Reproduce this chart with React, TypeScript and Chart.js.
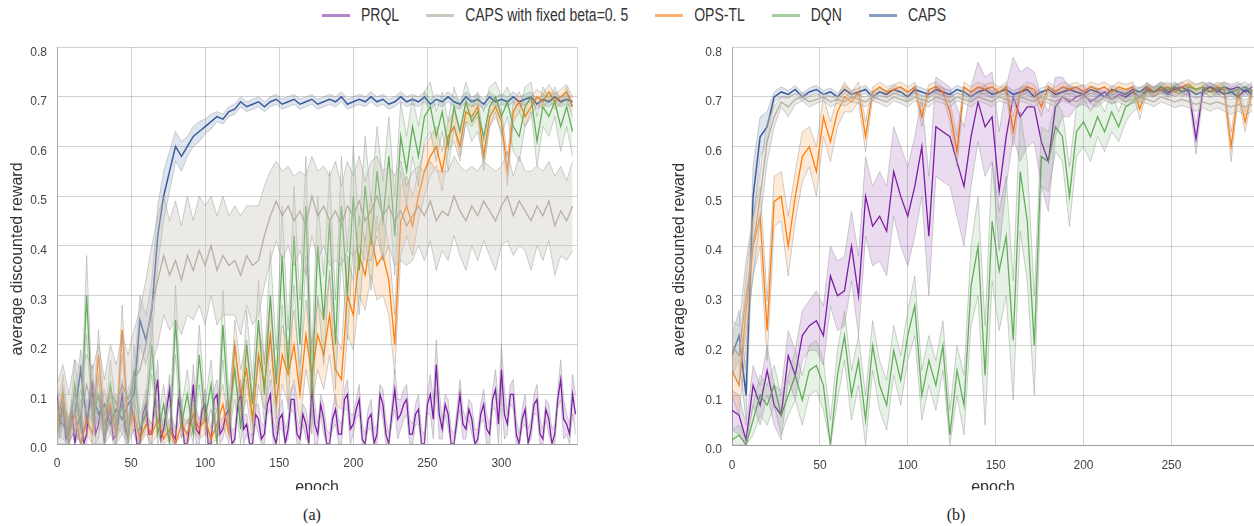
import { useEffect, useRef } from "react";
import { Chart, registerables } from "chart.js";

Chart.register(...registerables);

// ---------- shared ----------
const seriesNames = ["PRQL", "CAPS with fixed beta=0. 5", "OPS-TL", "DQN", "CAPS"];
const seriesColors = ["#7b1fa2", "#a8a292", "#ff7f0e", "#66ac5c", "#3b5b9a"];
const bandColors = [
  "rgba(123,31,162,0.16)",
  "rgba(205,200,190,0.38)",
  "rgba(255,127,14,0.16)",
  "rgba(102,172,92,0.16)",
  "rgba(59,91,154,0.16)",
];
const legendColors = [
  "rgba(123,31,162,0.55)",
  "rgba(168,162,146,0.6)",
  "rgba(255,127,14,0.6)",
  "rgba(102,172,92,0.6)",
  "rgba(59,91,154,0.6)",
];

const yTicks = [0, 0.1, 0.2, 0.3, 0.4, 0.5, 0.6, 0.7, 0.8];
const yTickLabels = ["0.0", "0.1", "0.2", "0.3", "0.4", "0.5", "0.6", "0.7", "0.8"];
const xTicksA = [0, 50, 100, 150, 200, 250, 300];
const xTicksB = [0, 50, 100, 150, 200, 250];

// ---------- panel (a): epochs 0..348 step 4 (PRQL step 2) ----------
const epochsA = Array.from({ length: 88 }, (_, i) => i * 4);
const epochsA2 = Array.from({ length: 176 }, (_, i) => i * 2);

const prqlA = [
  0.10, 0.04, 0.08, 0.01, 0.03, 0.07, 0.00, 0.04, 0.06, 0.00, 0.02, 0.09, 0.12, 0.02, 0.04, 0.08, 0.00, 0.05, 0.07, 0.01,
  0.02, 0.06, 0.10, 0.03, 0.01, 0.08, 0.05, 0.00, 0.00, 0.06, 0.08, 0.02, 0.02, 0.09, 0.13, 0.01, 0.03, 0.07, 0.11, 0.02,
  0.01, 0.09, 0.06, 0.00, 0.00, 0.05, 0.12, 0.03, 0.02, 0.07, 0.08, 0.00, 0.00, 0.09, 0.10, 0.02, 0.03, 0.06, 0.07, 0.00,
  0.01, 0.08, 0.10, 0.03, 0.04, 0.00, 0.00, 0.06, 0.05, 0.01, 0.02, 0.08, 0.10, 0.02, 0.00, 0.05, 0.06, 0.00, 0.03, 0.09,
  0.09, 0.02, 0.01, 0.06, 0.04, 0.00, 0.11, 0.04, 0.02, 0.08, 0.05, 0.00, 0.00, 0.05, 0.07, 0.02, 0.02, 0.09, 0.10, 0.03,
  0.04, 0.07, 0.09, 0.01, 0.00, 0.05, 0.06, 0.00, 0.02, 0.10, 0.08, 0.02, 0.00, 0.06, 0.11, 0.05, 0.06, 0.08, 0.09, 0.02,
  0.02, 0.06, 0.07, 0.00, 0.00, 0.08, 0.10, 0.05, 0.16, 0.06, 0.03, 0.08, 0.06, 0.00, 0.00, 0.05, 0.10, 0.04, 0.03, 0.07,
  0.05, 0.00, 0.01, 0.06, 0.08, 0.03, 0.02, 0.09, 0.11, 0.04, 0.15, 0.06, 0.04, 0.10, 0.10, 0.02, 0.00, 0.05, 0.07, 0.00,
  0.03, 0.08, 0.09, 0.02, 0.01, 0.07, 0.05, 0.00, 0.02, 0.09, 0.13, 0.05, 0.04, 0.02, 0.10, 0.06,
];
const prqlSpreadA = [
  0.03, 0.03, 0.02, 0.03, 0.03, 0.02, 0.04, 0.03, 0.02, 0.03,
  0.02, 0.03, 0.02, 0.03, 0.02, 0.03, 0.02, 0.04, 0.02, 0.03,
  0.02, 0.03, 0.02, 0.04, 0.02, 0.03, 0.02, 0.03, 0.02, 0.03,
  0.02, 0.03, 0.02, 0.02, 0.03, 0.02, 0.03, 0.02, 0.03, 0.02,
  0.03, 0.02, 0.03, 0.04, 0.02, 0.03, 0.02, 0.03, 0.02, 0.03,
  0.02, 0.03, 0.02, 0.03, 0.02, 0.03, 0.02, 0.04, 0.03, 0.03,
  0.02, 0.03, 0.02, 0.04, 0.05, 0.02, 0.03, 0.02, 0.03, 0.02,
  0.03, 0.02, 0.03, 0.02, 0.04, 0.05, 0.02, 0.03, 0.02, 0.03,
  0.02, 0.03, 0.02, 0.03, 0.02, 0.04, 0.02, 0.04,
];

const capsFixedA = [
  0.06, 0.08, 0.05, 0.10, 0.06, 0.12, 0.07, 0.10, 0.06, 0.11,
  0.08, 0.12, 0.09, 0.13, 0.15, 0.20, 0.28, 0.33, 0.38, 0.34,
  0.37, 0.33, 0.38, 0.35, 0.39, 0.36, 0.40, 0.35, 0.38, 0.36,
  0.37, 0.34, 0.38, 0.36, 0.37, 0.42, 0.46, 0.49, 0.46, 0.48,
  0.45, 0.47, 0.44, 0.50, 0.46, 0.48, 0.45, 0.47, 0.44, 0.48,
  0.46, 0.49, 0.45, 0.47, 0.50, 0.46, 0.48, 0.45, 0.47, 0.44,
  0.46, 0.48, 0.46, 0.49, 0.45, 0.47, 0.46, 0.50, 0.47, 0.45,
  0.48, 0.46, 0.49, 0.47, 0.45, 0.48, 0.50, 0.46, 0.49, 0.47,
  0.45, 0.48, 0.46, 0.49, 0.44, 0.47, 0.45, 0.48,
];
const capsFixedSpreadA = [
  0.06, 0.08, 0.05, 0.07, 0.09, 0.06, 0.08, 0.10, 0.07, 0.09,
  0.08, 0.10, 0.09, 0.10, 0.12, 0.13, 0.12, 0.13, 0.12, 0.11,
  0.12, 0.11, 0.12, 0.10, 0.11, 0.12, 0.10, 0.11, 0.12, 0.10,
  0.11, 0.12, 0.10, 0.12, 0.11, 0.10, 0.09, 0.08, 0.09, 0.08,
  0.09, 0.08, 0.10, 0.08, 0.09, 0.08, 0.09, 0.10, 0.08, 0.09,
  0.08, 0.09, 0.08, 0.10, 0.08, 0.09, 0.08, 0.09, 0.10, 0.08,
  0.09, 0.08, 0.09, 0.08, 0.10, 0.08, 0.09, 0.08, 0.09, 0.10,
  0.08, 0.09, 0.08, 0.09, 0.10, 0.08, 0.09, 0.08, 0.09, 0.08,
  0.10, 0.08, 0.09, 0.08, 0.10, 0.09, 0.08, 0.09,
];

const opsA = [
  0.04, 0.10, 0.02, 0.06, 0.00, 0.05, 0.02, 0.18, 0.04, 0.08,
  0.02, 0.23, 0.03, 0.06, 0.01, 0.04, 0.02, 0.05, 0.01, 0.03,
  0.00, 0.04, 0.02, 0.06, 0.03, 0.05, 0.01, 0.04, 0.08, 0.02,
  0.20, 0.10, 0.15, 0.05, 0.18, 0.12, 0.22, 0.08, 0.18, 0.14,
  0.20, 0.10, 0.22, 0.14, 0.22, 0.18, 0.26, 0.15, 0.13, 0.30,
  0.26, 0.38, 0.34, 0.42, 0.36, 0.38, 0.33, 0.20, 0.45, 0.48,
  0.44, 0.50, 0.55, 0.58, 0.60, 0.55, 0.62, 0.64, 0.60, 0.67,
  0.66, 0.68, 0.58, 0.66, 0.68, 0.65, 0.55, 0.67, 0.69, 0.66,
  0.68, 0.70, 0.69, 0.71, 0.69, 0.70, 0.71, 0.68,
];
const opsSpreadA = [
  0.03, 0.04, 0.02, 0.03, 0.02, 0.03, 0.02, 0.05, 0.03, 0.03,
  0.02, 0.05, 0.02, 0.03, 0.02, 0.02, 0.02, 0.03, 0.02, 0.02,
  0.02, 0.02, 0.02, 0.03, 0.02, 0.03, 0.02, 0.03, 0.04, 0.02,
  0.05, 0.05, 0.06, 0.04, 0.06, 0.05, 0.07, 0.05, 0.06, 0.06,
  0.07, 0.06, 0.07, 0.06, 0.07, 0.07, 0.08, 0.07, 0.06, 0.08,
  0.07, 0.08, 0.07, 0.08, 0.07, 0.08, 0.07, 0.06, 0.07, 0.06,
  0.06, 0.05, 0.05, 0.04, 0.04, 0.04, 0.03, 0.03, 0.03, 0.02,
  0.02, 0.02, 0.03, 0.02, 0.02, 0.02, 0.03, 0.02, 0.02, 0.02,
  0.02, 0.015, 0.015, 0.015, 0.015, 0.015, 0.015, 0.02,
];

const dqnA = [
  0.02, 0.08, 0.00, 0.12, 0.03, 0.30, 0.05, 0.10, 0.02, 0.12,
  0.04, 0.08, 0.01, 0.15, 0.03, 0.06, 0.20, 0.02, 0.08, 0.00,
  0.25, 0.04, 0.10, 0.02, 0.18, 0.05, 0.12, 0.00, 0.24, 0.06,
  0.15, 0.03, 0.20, 0.08, 0.25, 0.10, 0.30, 0.12, 0.38, 0.15,
  0.42, 0.20, 0.48, 0.10, 0.40, 0.25, 0.45, 0.20, 0.48, 0.30,
  0.50, 0.35, 0.52, 0.40, 0.55, 0.45, 0.58, 0.42, 0.62, 0.55,
  0.64, 0.58, 0.66, 0.68, 0.62, 0.67, 0.60, 0.68, 0.63, 0.69,
  0.65, 0.67, 0.62, 0.68, 0.70, 0.66, 0.69, 0.64, 0.62, 0.68,
  0.70, 0.61, 0.68, 0.66, 0.69, 0.64, 0.68, 0.63,
];
const dqnSpreadA = [
  0.03, 0.04, 0.02, 0.05, 0.03, 0.08, 0.03, 0.04, 0.02, 0.05,
  0.03, 0.04, 0.02, 0.05, 0.03, 0.03, 0.06, 0.02, 0.04, 0.02,
  0.07, 0.03, 0.05, 0.02, 0.06, 0.03, 0.05, 0.02, 0.07, 0.04,
  0.06, 0.04, 0.07, 0.05, 0.08, 0.06, 0.09, 0.07, 0.10, 0.08,
  0.10, 0.09, 0.10, 0.08, 0.10, 0.09, 0.10, 0.09, 0.10, 0.09,
  0.10, 0.09, 0.10, 0.09, 0.09, 0.08, 0.08, 0.08, 0.07, 0.07,
  0.06, 0.06, 0.05, 0.05, 0.05, 0.04, 0.05, 0.04, 0.05, 0.04,
  0.04, 0.04, 0.05, 0.04, 0.03, 0.04, 0.03, 0.05, 0.05, 0.04,
  0.03, 0.05, 0.04, 0.04, 0.03, 0.05, 0.04, 0.05,
];

const capsA = [
  0.05, 0.04, 0.02, 0.06, 0.15, 0.05, 0.10, 0.06, 0.08, 0.04,
  0.07, 0.05, 0.08, 0.10, 0.25, 0.21, 0.27, 0.42, 0.50, 0.55,
  0.60, 0.58, 0.60, 0.62, 0.63, 0.64, 0.65, 0.66, 0.655, 0.67,
  0.675, 0.69, 0.68, 0.685, 0.69, 0.68, 0.69, 0.695, 0.685, 0.69,
  0.695, 0.685, 0.69, 0.695, 0.685, 0.69, 0.695, 0.69, 0.70, 0.685,
  0.69, 0.695, 0.69, 0.70, 0.69, 0.695, 0.685, 0.69, 0.70, 0.69,
  0.695, 0.69, 0.70, 0.685, 0.695, 0.69, 0.70, 0.69, 0.685, 0.70,
  0.69, 0.695, 0.685, 0.70, 0.69, 0.695, 0.69, 0.70, 0.69, 0.695,
  0.70, 0.685, 0.695, 0.69, 0.70, 0.69, 0.695, 0.69,
];
const capsSpreadA = [
  0.03, 0.03, 0.02, 0.03, 0.04, 0.03, 0.03, 0.03, 0.03, 0.02,
  0.03, 0.03, 0.03, 0.04, 0.05, 0.05, 0.06, 0.06, 0.05, 0.04,
  0.03, 0.03, 0.02, 0.02, 0.02, 0.015, 0.015, 0.01, 0.01, 0.01,
  0.01, 0.01, 0.01, 0.01, 0.01, 0.01, 0.01, 0.01, 0.01, 0.01,
  0.01, 0.01, 0.01, 0.01, 0.01, 0.01, 0.01, 0.01, 0.01, 0.01,
  0.01, 0.01, 0.01, 0.01, 0.01, 0.01, 0.01, 0.01, 0.01, 0.01,
  0.01, 0.01, 0.01, 0.01, 0.01, 0.01, 0.01, 0.01, 0.01, 0.01,
  0.01, 0.01, 0.01, 0.01, 0.01, 0.01, 0.01, 0.01, 0.01, 0.01,
  0.01, 0.01, 0.01, 0.01, 0.01, 0.01, 0.01, 0.01,
];

// ---------- panel (b): epochs 0..296 step 4 ----------
const epochsB = Array.from({ length: 75 }, (_, i) => i * 4);

const prqlB = [
  0.07, 0.06, 0.01, 0.12, 0.08, 0.15, 0.08, 0.06, 0.18, 0.14,
  0.22, 0.24, 0.25, 0.22, 0.34, 0.30, 0.31, 0.40, 0.30, 0.50,
  0.44, 0.46, 0.43, 0.55, 0.50, 0.46, 0.52, 0.60, 0.42, 0.64,
  0.63, 0.62, 0.57, 0.52, 0.62, 0.69, 0.64, 0.66, 0.51, 0.62,
  0.70, 0.66, 0.68, 0.68, 0.61, 0.57, 0.68, 0.70, 0.69, 0.70,
  0.705, 0.69, 0.70, 0.71, 0.695, 0.705, 0.70, 0.71, 0.70, 0.715,
  0.71, 0.72, 0.71, 0.715, 0.72, 0.71, 0.615, 0.715, 0.72, 0.71,
  0.72, 0.715, 0.72, 0.71, 0.72,
];
const prqlSpreadB = [
  0.04, 0.04, 0.03, 0.04, 0.04, 0.05, 0.04, 0.05, 0.05, 0.05,
  0.05, 0.05, 0.06, 0.06, 0.06, 0.07, 0.07, 0.07, 0.08, 0.08,
  0.08, 0.09, 0.09, 0.09, 0.10, 0.10, 0.10, 0.10, 0.12, 0.10,
  0.10, 0.10, 0.11, 0.12, 0.10, 0.08, 0.10, 0.09, 0.12, 0.10,
  0.08, 0.09, 0.08, 0.07, 0.09, 0.10, 0.06, 0.04, 0.03, 0.02,
  0.02, 0.015, 0.015, 0.01, 0.01, 0.01, 0.01, 0.01, 0.01, 0.01,
  0.01, 0.01, 0.01, 0.01, 0.01, 0.01, 0.03, 0.01, 0.01, 0.01,
  0.01, 0.01, 0.01, 0.01, 0.01,
];

const capsFixedB = [
  0.20, 0.18, 0.30, 0.40, 0.50, 0.61, 0.66, 0.69, 0.68, 0.695,
  0.70, 0.69, 0.695, 0.70, 0.69, 0.695, 0.69, 0.70, 0.695, 0.69,
  0.70, 0.695, 0.69, 0.70, 0.695, 0.69, 0.70, 0.695, 0.69, 0.70,
  0.695, 0.69, 0.70, 0.695, 0.69, 0.70, 0.695, 0.69, 0.70, 0.695,
  0.69, 0.70, 0.695, 0.69, 0.70, 0.695, 0.69, 0.70, 0.695, 0.69,
  0.70, 0.695, 0.69, 0.70, 0.695, 0.70, 0.69, 0.695, 0.70, 0.695,
  0.69, 0.70, 0.695, 0.69, 0.695, 0.69, 0.685, 0.69, 0.685, 0.69,
  0.685, 0.68, 0.685, 0.68, 0.685,
];
const capsFixedSpreadB = [
  0.05, 0.06, 0.07, 0.06, 0.05, 0.04, 0.02, 0.01, 0.02, 0.01,
  0.008, 0.01, 0.008, 0.008, 0.01, 0.008, 0.008, 0.01, 0.008, 0.01,
  0.008, 0.008, 0.01, 0.008, 0.008, 0.01, 0.008, 0.008, 0.01, 0.008,
  0.008, 0.01, 0.008, 0.008, 0.01, 0.008, 0.008, 0.01, 0.008, 0.008,
  0.01, 0.008, 0.008, 0.01, 0.008, 0.008, 0.01, 0.008, 0.008, 0.01,
  0.008, 0.008, 0.01, 0.008, 0.008, 0.01, 0.008, 0.008, 0.01, 0.008,
  0.01, 0.01, 0.01, 0.012, 0.012, 0.012, 0.014, 0.012, 0.014, 0.012,
  0.014, 0.015, 0.014, 0.015, 0.014,
];

const opsB = [
  0.15, 0.12, 0.27, 0.40, 0.46, 0.23, 0.49, 0.50, 0.40, 0.50,
  0.58, 0.60, 0.55, 0.66, 0.61, 0.67, 0.70, 0.69, 0.71, 0.62,
  0.71, 0.72, 0.71, 0.715, 0.72, 0.71, 0.72, 0.66, 0.715, 0.72,
  0.71, 0.67, 0.59, 0.72, 0.71, 0.72, 0.715, 0.72, 0.71, 0.72,
  0.63, 0.71, 0.72, 0.715, 0.68, 0.72, 0.71, 0.72, 0.715, 0.72,
  0.71, 0.72, 0.715, 0.72, 0.71, 0.72, 0.715, 0.72, 0.675, 0.72,
  0.71, 0.715, 0.72, 0.71, 0.72, 0.725, 0.715, 0.72, 0.71, 0.72,
  0.715, 0.60, 0.71, 0.65, 0.715,
];
const opsSpreadB = [
  0.05, 0.06, 0.07, 0.06, 0.06, 0.06, 0.05, 0.05, 0.06, 0.05,
  0.05, 0.04, 0.05, 0.04, 0.04, 0.03, 0.03, 0.02, 0.02, 0.03,
  0.01, 0.01, 0.01, 0.01, 0.01, 0.01, 0.01, 0.02, 0.01, 0.01,
  0.01, 0.02, 0.03, 0.01, 0.01, 0.01, 0.01, 0.01, 0.01, 0.01,
  0.03, 0.01, 0.01, 0.01, 0.02, 0.01, 0.01, 0.01, 0.01, 0.01,
  0.01, 0.01, 0.01, 0.01, 0.01, 0.01, 0.01, 0.01, 0.02, 0.01,
  0.01, 0.01, 0.01, 0.01, 0.01, 0.01, 0.01, 0.01, 0.01, 0.01,
  0.01, 0.03, 0.01, 0.02, 0.01,
];

const dqnB = [
  0.01, 0.02, 0.00, 0.05, 0.10, 0.08, 0.12, 0.06, 0.10, 0.14,
  0.09, 0.15, 0.16, 0.12, 0.00, 0.14, 0.22, 0.10, 0.17, 0.05,
  0.20, 0.12, 0.08, 0.19, 0.13, 0.22, 0.28, 0.10, 0.17, 0.12,
  0.20, 0.02, 0.15, 0.08, 0.32, 0.40, 0.14, 0.45, 0.35, 0.42,
  0.21, 0.55, 0.45, 0.20, 0.58, 0.57, 0.64, 0.62, 0.50, 0.63,
  0.65, 0.62, 0.66, 0.63, 0.67, 0.64, 0.68, 0.69, 0.70, 0.71,
  0.71, 0.72, 0.715, 0.72, 0.71, 0.72, 0.715, 0.72, 0.71, 0.715,
  0.72, 0.71, 0.715, 0.72, 0.71,
];
const dqnSpreadB = [
  0.02, 0.02, 0.01, 0.03, 0.04, 0.04, 0.04, 0.04, 0.04, 0.05,
  0.05, 0.05, 0.05, 0.05, 0.05, 0.05, 0.05, 0.05, 0.05, 0.05,
  0.05, 0.05, 0.05, 0.05, 0.05, 0.05, 0.06, 0.05, 0.05, 0.05,
  0.05, 0.05, 0.05, 0.06, 0.08, 0.10, 0.10, 0.12, 0.12, 0.12,
  0.12, 0.12, 0.12, 0.10, 0.06, 0.06, 0.05, 0.05, 0.06, 0.05,
  0.05, 0.05, 0.04, 0.04, 0.04, 0.03, 0.03, 0.02, 0.02, 0.01,
  0.01, 0.01, 0.01, 0.01, 0.01, 0.01, 0.01, 0.01, 0.01, 0.01,
  0.01, 0.01, 0.01, 0.01, 0.01,
];

const capsB = [
  0.18, 0.22, 0.10, 0.50, 0.62, 0.64, 0.70, 0.71, 0.705, 0.715,
  0.70, 0.71, 0.715, 0.705, 0.71, 0.70, 0.715, 0.705, 0.71, 0.715,
  0.70, 0.71, 0.705, 0.715, 0.71, 0.70, 0.715, 0.71, 0.705, 0.715,
  0.71, 0.705, 0.715, 0.71, 0.70, 0.71, 0.715, 0.705, 0.71, 0.715,
  0.705, 0.71, 0.715, 0.70, 0.71, 0.715, 0.705, 0.71, 0.715, 0.71,
  0.705, 0.715, 0.71, 0.70, 0.715, 0.71, 0.705, 0.715, 0.71, 0.72,
  0.71, 0.715, 0.705, 0.72, 0.71, 0.715, 0.705, 0.71, 0.72, 0.715,
  0.705, 0.71, 0.70, 0.715, 0.705,
];
const capsSpreadB = [
  0.04, 0.05, 0.05, 0.06, 0.04, 0.03, 0.01, 0.01, 0.008, 0.008,
  0.008, 0.008, 0.008, 0.008, 0.008, 0.008, 0.008, 0.008, 0.008, 0.008,
  0.008, 0.008, 0.008, 0.008, 0.008, 0.008, 0.008, 0.008, 0.008, 0.008,
  0.008, 0.008, 0.008, 0.008, 0.008, 0.008, 0.008, 0.008, 0.008, 0.008,
  0.008, 0.008, 0.008, 0.008, 0.008, 0.008, 0.008, 0.008, 0.008, 0.008,
  0.008, 0.008, 0.008, 0.008, 0.008, 0.008, 0.008, 0.008, 0.008, 0.008,
  0.008, 0.008, 0.008, 0.008, 0.008, 0.008, 0.008, 0.008, 0.008, 0.008,
  0.008, 0.008, 0.008, 0.008, 0.008,
];

// series order: PRQL, CAPS fixed, OPS-TL, DQN, CAPS
const xsA = [epochsA2, epochsA, epochsA, epochsA, epochsA];
const meansA = [prqlA, capsFixedA, opsA, dqnA, capsA];
const spreadsA = [prqlSpreadA, capsFixedSpreadA, opsSpreadA, dqnSpreadA, capsSpreadA];
const xsB = [epochsB, epochsB, epochsB, epochsB, epochsB];
const meansB = [prqlB, capsFixedB, opsB, dqnB, capsB];
const spreadsB = [prqlSpreadB, capsFixedSpreadB, opsSpreadB, dqnSpreadB, capsSpreadB];

// ---------- chart building ----------
const FONT = "'Liberation Sans', Arial, sans-serif";
const EDGE = "rgba(150,150,150,0.45)";
const GRID = "rgba(0,0,0,0.18)";
const bandOrder = [1, 3, 2, 0, 4];
const lineOrder = [1, 3, 2, 4, 0];

function spreadAt(xs: number[], s: number[], i: number) {
  // spread arrays are read at 4-epoch resolution
  const j = Math.min(s.length - 1, Math.floor((xs[i] as number) / 4));
  return s[j];
}

function buildDatasets(xsList: number[][], means: number[][], spreads: number[][]) {
  const ds: any[] = [];
  for (const k of bandOrder) {
    const xs = xsList[k];
    const m = means[k];
    const s = spreads[k];
    ds.push({
      data: xs.map((x, i) => ({ x, y: Math.max(0, m[i] - spreadAt(xs, s, i)) })),
      borderColor: EDGE,
      borderWidth: 1,
      pointRadius: 0,
      fill: false,
    });
    ds.push({
      data: xs.map((x, i) => ({ x, y: m[i] + spreadAt(xs, s, i) })),
      borderColor: EDGE,
      borderWidth: 1,
      pointRadius: 0,
      fill: "-1",
      backgroundColor: bandColors[k],
    });
  }
  for (const k of lineOrder) {
    const xs = xsList[k];
    ds.push({
      data: xs.map((x, i) => ({ x, y: means[k][i] })),
      borderColor: seriesColors[k],
      borderWidth: k === 4 ? 1.5 : 1.3,
      pointRadius: 0,
      fill: false,
    });
  }
  return ds;
}

const rightFrame = {
  id: "rightFrame",
  afterDraw(chart: any, _args: any, opts: any) {
    if (!opts || !opts.show) return;
    const { ctx, chartArea } = chart;
    ctx.save();
    ctx.strokeStyle = GRID;
    ctx.lineWidth = 1;
    ctx.beginPath();
    ctx.moveTo(Math.round(chartArea.right) + 0.5, chartArea.top);
    ctx.lineTo(Math.round(chartArea.right) + 0.5, chartArea.bottom);
    ctx.stroke();
    ctx.restore();
  },
};

type PanelProps = {
  left: number;
  top: number;
  width: number;
  height: number;
  xs: number[][];
  means: number[][];
  spreads: number[][];
  xTicks: number[];
  xMax: number;
  yAxisWidth: number;
  xAxisHeight: number;
  padTop: number;
  padRight: number;
  frame: boolean;
  xTickPad: number;
};

function Panel(p: PanelProps) {
  const ref = useRef<HTMLCanvasElement | null>(null);
  useEffect(() => {
    if (!ref.current) return;
    const chart = new Chart(ref.current, {
      type: "line",
      data: { datasets: buildDatasets(p.xs, p.means, p.spreads) },
      plugins: [rightFrame],
      options: {
        responsive: false,
        animation: false,
        layout: { padding: { top: p.padTop, right: p.padRight, left: 0, bottom: 0 } },
        elements: { line: { tension: 0 }, point: { radius: 0 } },
        plugins: {
          legend: { display: false },
          tooltip: { enabled: false },
          rightFrame: { show: p.frame },
        } as any,
        scales: {
          x: {
            type: "linear",
            min: 0,
            max: p.xMax,
            afterBuildTicks: (s: any) => {
              s.ticks = p.xTicks.map((v) => ({ value: v }));
            },
            afterFit: (s: any) => {
              s.height = p.xAxisHeight;
            },
            grid: { color: GRID, drawTicks: false },
            border: { display: true, color: "rgba(0,0,0,0.25)" },
            ticks: {
              padding: p.xTickPad,
              autoSkip: false,
              maxRotation: 0,
              color: "#444",
              font: { family: FONT, size: 12 },
              callback: (v: any) => String(v),
            },
            title: {
              display: true,
              text: "epoch",
              color: "#333",
              font: { family: FONT, size: 16 },
              padding: { top: 0, bottom: -7 },
            },
          },
          y: {
            type: "linear",
            min: 0,
            max: 0.8,
            afterBuildTicks: (s: any) => {
              s.ticks = yTicks.map((v) => ({ value: v }));
            },
            afterFit: (s: any) => {
              s.width = p.yAxisWidth;
            },
            grid: { color: GRID, drawTicks: false },
            border: { display: true, color: "rgba(0,0,0,0.2)" },
            ticks: {
              padding: 10,
              labelOffset: 5,
              color: "#444",
              font: { family: FONT, size: 12 },
              callback: (_v: any, i: number) => yTickLabels[i],
            },
            title: {
              display: true,
              text: "average discounted reward      ",
              color: "#333",
              font: { family: FONT, size: 16 },
              padding: { top: 8.4, bottom: 0 },
            },
          },
        },
      } as any,
    });
    return () => chart.destroy();
  }, []);
  return (
    <div style={{ position: "absolute", left: p.left, top: p.top, width: p.width, height: p.height }}>
      <canvas ref={ref} width={p.width} height={p.height} style={{ display: "block", width: p.width, height: p.height }} />
    </div>
  );
}

function Legend() {
  return (
    <div
      style={{
        position: "absolute",
        left: 322,
        top: 5,
        height: 20,
        display: "flex",
        alignItems: "center",
        fontFamily: FONT,
        fontSize: 14,
        color: "#333",
        whiteSpace: "nowrap",
      }}
    >
      {seriesNames.map((name, k) => (
        <div key={name} style={{ display: "flex", alignItems: "center", marginRight: 27 }}>
          <div style={{ width: 28, height: 3, background: legendColors[k], marginRight: 11 }} />
          <span style={{ display: "inline-block", transform: "scaleY(1.25)" }}>{name}</span>
        </div>
      ))}
    </div>
  );
}

export default function App() {
  return (
    <div
      style={{
        position: "fixed",
        left: 0,
        top: 0,
        width: 1254,
        height: 526,
        background: "#fff",
        overflow: "hidden",
      }}
    >
      <Legend />
      <Panel
        left={0}
        top={30}
        width={590}
        height={460}
        xs={xsA}
        means={meansA}
        spreads={spreadsA}
        xTicks={xTicksA}
        xMax={351}
        yAxisWidth={57}
        xAxisHeight={46}
        padTop={12}
        padRight={13}
        frame={true}
        xTickPad={12}
      />
      <Panel
        left={662}
        top={30}
        width={592}
        height={460}
        xs={xsB}
        means={meansB}
        spreads={spreadsB}
        xTicks={xTicksB}
        xMax={297}
        yAxisWidth={70}
        xAxisHeight={45}
        padTop={7}
        padRight={0}
        frame={false}
        xTickPad={13}
      />
      <div style={{ position: "absolute", left: 292, top: 506, width: 40, textAlign: "center", fontFamily: "'Liberation Serif', serif", fontSize: 16, color: "#222" }}>
        (a)
      </div>
      <div style={{ position: "absolute", left: 936, top: 506, width: 40, textAlign: "center", fontFamily: "'Liberation Serif', serif", fontSize: 16, color: "#222" }}>
        (b)
      </div>
    </div>
  );
}
